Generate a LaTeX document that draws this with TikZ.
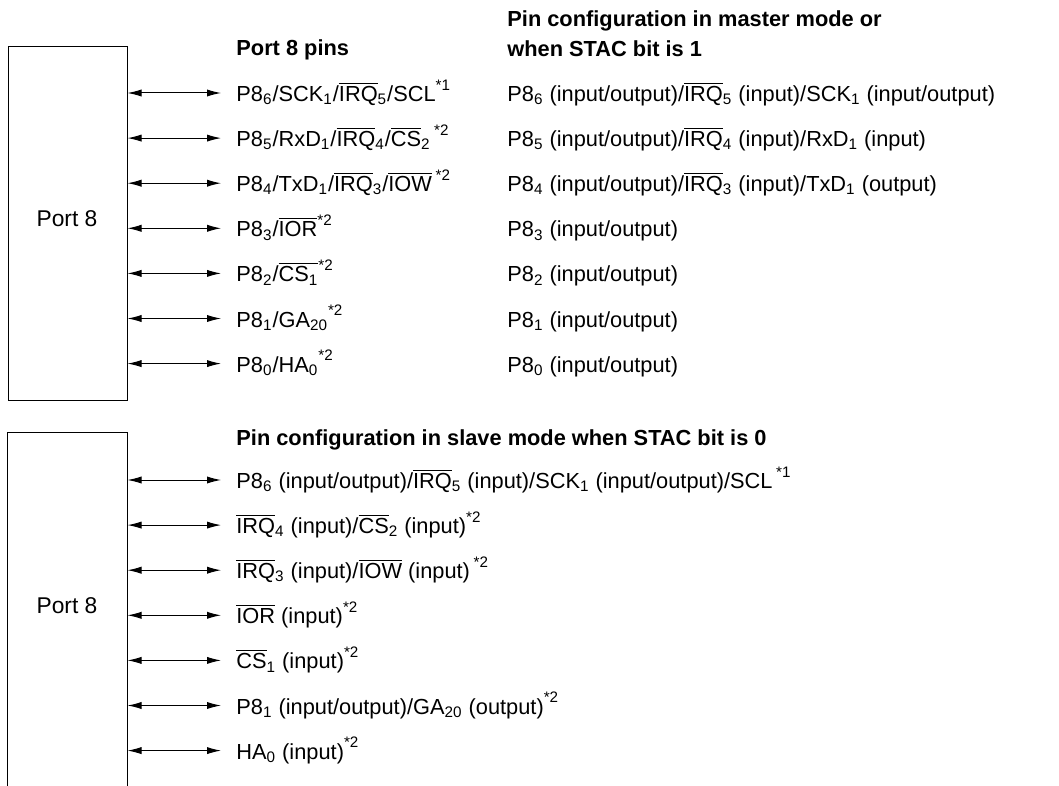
\documentclass[tikz,border=0pt]{standalone}
\usepackage{fontspec}
\setmainfont{Liberation Sans}
\usetikzlibrary{arrows.meta, positioning}

\newcommand{\ovl}[1]{$\overline{\mbox{#1}}$}
\newcommand{\sbs}[1]{\textsubscript{#1}}
\newcommand{\fn}[1]{\raisebox{5.6pt}{\fontsize{7.6}{9}\selectfont #1}}

\begin{document}
\begin{tikzpicture}[x=0.5pt, y=-0.5pt, node distance=0pt, >={Latex[length=7pt, width=3.6pt]},
    font=\fontsize{10.9}{13}\selectfont,
    portbox/.style={rectangle, line width=0.5pt, minimum width=59.5pt, minimum height=176.5pt, inner sep=0pt},
    pin/.style={anchor=west, inner xsep=7.5pt, inner ysep=3.325pt, text height=12pt, text depth=3.5pt},
    cfg/.style={anchor=west, inner xsep=0pt, inner ysep=3.325pt, text height=12pt, text depth=3.5pt},
    head/.style={anchor=base west, inner sep=0pt, font=\fontsize{10.9}{13}\selectfont\bfseries},
    line/.style={<->, line width=0.5pt}]
    \useasboundingbox (0,0) rectangle (1059,786);

    % upper half: master mode / STAC = 1
    \node [portbox, draw] (port8a) at (67.5,223.5) {};
    \node [font=\fontsize{11.4}{13}\selectfont] (name8a) at (67,219) {Port 8};
    \node [head] (hpins) at (236,56) {Port 8 pins};
    \node [head] (hmode) at (507,27) {Pin configuration in master mode or};
    \node [head] (hstac) at (507,56.5) {when STAC bit is 1};

    \node [pin] (p86) at (221,93) {P8\sbs{6}/SCK\sbs{1}/\ovl{IRQ}\sbs{5}/SCL\fn{*1}};
    \node [pin, below=of p86.south west, anchor=north west] (p85) {P8\sbs{5}/RxD\sbs{1}/\ovl{IRQ}\sbs{4}/\ovl{CS}\sbs{2}\,\fn{*2}};
    \node [pin, below=of p85.south west, anchor=north west] (p84) {P8\sbs{4}/TxD\sbs{1}/\ovl{IRQ}\sbs{3}/\ovl{IOW}\,\fn{*2}};
    \node [pin, below=of p84.south west, anchor=north west] (p83) {P8\sbs{3}/\ovl{IOR}\fn{*2}};
    \node [pin, below=of p83.south west, anchor=north west] (p82) {P8\sbs{2}/\ovl{CS\sbs{1}}\fn{*2}};
    \node [pin, below=of p82.south west, anchor=north west] (p81) {P8\sbs{1}/GA\sbs{20}\fn{*2}};
    \node [pin, below=of p81.south west, anchor=north west] (p80) {P8\sbs{0}/HA\sbs{0}\fn{*2}};

    \node [cfg] (m86) at (p86 -| hmode.west) {P8\sbs{6} (input/output)/\ovl{IRQ}\sbs{5} (input)/SCK\sbs{1} (input/output)};
    \node [cfg] (m85) at (p85 -| hmode.west) {P8\sbs{5} (input/output)/\ovl{IRQ}\sbs{4} (input)/RxD\sbs{1} (input)};
    \node [cfg] (m84) at (p84 -| hmode.west) {P8\sbs{4} (input/output)/\ovl{IRQ}\sbs{3} (input)/TxD\sbs{1} (output)};
    \node [cfg] (m83) at (p83 -| hmode.west) {P8\sbs{3} (input/output)};
    \node [cfg] (m82) at (p82 -| hmode.west) {P8\sbs{2} (input/output)};
    \node [cfg] (m81) at (p81 -| hmode.west) {P8\sbs{1} (input/output)};
    \node [cfg] (m80) at (p80 -| hmode.west) {P8\sbs{0} (input/output)};

    \path [line] (port8a.east |- p86.west) edge (p86.west)
                 (port8a.east |- p85.west) edge (p85.west)
                 (port8a.east |- p84.west) edge (p84.west)
                 (port8a.east |- p83.west) edge (p83.west)
                 (port8a.east |- p82.west) edge (p82.west)
                 (port8a.east |- p81.west) edge (p81.west)
                 (port8a.east |- p80.west) edge (p80.west);

    % lower half: slave mode, STAC = 0
    \node [portbox] (port8b) at (67.5,609.5) {};
    \draw [line width=0.5pt] (port8b.south west) -- (port8b.north west) -- (port8b.north east) -- (port8b.south east);
    \node [font=\fontsize{11.4}{13}\selectfont] (name8b) at (67,606) {Port 8};
    \node [head] (hslave) at (236,445) {Pin configuration in slave mode when STAC bit is 0};

    \node [pin] (s86) at (221,480) {P8\sbs{6} (input/output)/\ovl{IRQ}\sbs{5} (input)/SCK\sbs{1} (input/output)/SCL\,\fn{*1}};
    \node [pin, below=of s86.south west, anchor=north west] (s85) {\ovl{IRQ}\sbs{4} (input)/\ovl{CS}\sbs{2} (input)\fn{*2}};
    \node [pin, below=of s85.south west, anchor=north west] (s84) {\ovl{IRQ}\sbs{3} (input)/\ovl{IOW} (input)\,\fn{*2}};
    \node [pin, below=of s84.south west, anchor=north west] (s83) {\ovl{IOR} (input)\fn{*2}};
    \node [pin, below=of s83.south west, anchor=north west] (s82) {\ovl{CS}\sbs{1} (input)\fn{*2}};
    \node [pin, below=of s82.south west, anchor=north west] (s81) {P8\sbs{1} (input/output)/GA\sbs{20} (output)\fn{*2}};
    \node [pin, below=of s81.south west, anchor=north west] (s80) {HA\sbs{0} (input)\fn{*2}};

    \path [line] (port8b.east |- s86.west) edge (s86.west)
                 (port8b.east |- s85.west) edge (s85.west)
                 (port8b.east |- s84.west) edge (s84.west)
                 (port8b.east |- s83.west) edge (s83.west)
                 (port8b.east |- s82.west) edge (s82.west)
                 (port8b.east |- s81.west) edge (s81.west)
                 (port8b.east |- s80.west) edge (s80.west);
\end{tikzpicture}
\end{document}
